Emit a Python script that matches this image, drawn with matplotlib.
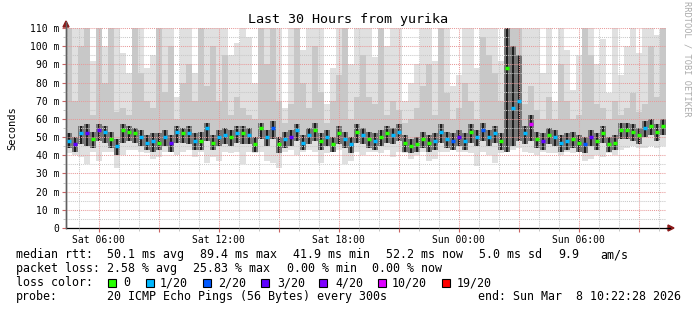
import numpy as np
import pandas as pd
import matplotlib
matplotlib.use("Agg")
import matplotlib.pyplot as plt
import matplotlib.dates as mdates
from matplotlib.ticker import MultipleLocator, FuncFormatter
from matplotlib.patches import Rectangle, Polygon
from matplotlib.lines import Line2D

## 고정폭 폰트 (rrdtool 느낌)
plt.rc("font", family="DejaVu Sans Mono")

# 30시간 구간, 18분 단위 100칸
start = pd.Timestamp("2026-03-07 04:22:28")
end = pd.Timestamp("2026-03-08 10:22:28")
step_min = 18

# 중앙값 rtt (ms)
med = [48, 46, 52, 52, 49, 54, 53, 49, 45, 54, 53, 52, 50, 47, 48, 47, 50, 47, 53, 52, 52, 48, 48, 55, 47,
       50, 51, 50, 52, 52, 51, 46, 55, 50, 55, 46, 49, 50, 54, 47, 51, 54, 48, 50, 46, 52, 49, 46, 53, 51,
       49, 48, 50, 52, 51, 53, 47, 45, 46, 49, 47, 48, 53, 49, 48, 50, 48, 53, 50, 54, 50, 52, 48, 88, 66,
       70, 52, 57, 49, 48, 51, 50, 47, 48, 49, 47, 46, 50, 48, 52, 46, 47, 54, 54, 53, 51, 55, 56, 53, 56]
# 손실 핑 개수 (20개 중)
loss = [1, 3, 1, 3, 0, 3, 1, 0, 1, 0, 0, 0, 1, 1, 1, 0, 1, 3, 1, 0, 1, 1, 0, 1, 0,
        1, 1, 0, 1, 0, 1, 0, 0, 1, 2, 0, 1, 3, 1, 1, 1, 0, 0, 1, 0, 0, 1, 1, 0, 1,
        0, 1, 0, 0, 1, 1, 0, 0, 0, 0, 0, 1, 1, 1, 2, 3, 1, 0, 1, 2, 1, 1, 0, 0, 1,
        1, 1, 10, 0, 3, 0, 1, 1, 1, 0, 0, 2, 3, 0, 0, 0, 0, 0, 0, 0, 0, 1, 0, 0, 0]
# smoke 최소값
lo = [41, 40, 39, 35, 42, 37, 42, 42, 33, 40, 43, 43, 42, 41, 38, 39, 42, 42, 40, 42, 43, 39, 42, 36, 39,
      37, 42, 41, 42, 35, 42, 41, 42, 37, 36, 33, 42, 43, 40, 42, 43, 42, 36, 41, 42, 43, 35, 37, 42, 40,
      42, 42, 41, 43, 39, 42, 41, 38, 40, 42, 37, 38, 42, 42, 43, 42, 42, 41, 34, 42, 40, 36, 41, 42, 43,
      44, 42, 41, 40, 42, 41, 41, 40, 42, 41, 42, 37, 38, 40, 39, 41, 40, 43, 44, 45, 44, 44, 45, 44, 45]
# 진한 부분 (중앙 근처)
q_lo = [44, 42, 46, 45, 44, 48, 47, 44, 40, 47, 48, 47, 45, 43, 42, 43, 45, 42, 47, 47, 46, 43, 43, 48, 43,
        45, 46, 45, 47, 46, 46, 42, 49, 45, 49, 41, 44, 45, 48, 43, 46, 48, 43, 45, 42, 46, 44, 41, 47, 46,
        44, 43, 45, 47, 46, 48, 42, 41, 42, 44, 42, 43, 47, 44, 43, 45, 43, 47, 45, 48, 45, 47, 43, 42, 45,
        48, 46, 48, 44, 43, 46, 45, 42, 43, 44, 42, 41, 45, 43, 47, 42, 43, 49, 49, 48, 46, 50, 51, 48, 51]
q_hi = [52, 50, 56, 57, 53, 57, 56, 53, 49, 57, 56, 55, 54, 51, 52, 52, 54, 51, 56, 55, 56, 52, 53, 58, 51,
        54, 55, 54, 56, 56, 55, 50, 58, 54, 59, 50, 53, 54, 57, 51, 55, 58, 52, 54, 50, 56, 53, 50, 57, 55,
        53, 52, 54, 56, 55, 57, 51, 49, 50, 53, 51, 52, 57, 53, 52, 54, 52, 57, 54, 58, 54, 56, 52, 120, 100,
        95, 56, 62, 53, 52, 55, 54, 51, 52, 53, 51, 50, 54, 52, 56, 50, 51, 58, 58, 57, 55, 59, 60, 57, 60]
# 중간 회색 윗값
p80 = [120, 70, 100, 120, 62, 110, 80, 120, 64, 66, 62, 120, 85, 70, 66, 120, 75, 100, 60, 80, 90, 70, 120, 78, 100,
       70, 95, 62, 72, 66, 62, 60, 120, 90, 120, 70, 58, 68, 110, 80, 66, 100, 75, 58, 70, 84, 120, 60, 72, 95,
       72, 68, 110, 62, 70, 65, 58, 60, 66, 78, 90, 62, 120, 74, 60, 66, 80, 70, 60, 105, 95, 85, 70, 120, 120,
       120, 68, 78, 65, 60, 72, 60, 90, 70, 60, 62, 120, 95, 68, 66, 60, 70, 62, 66, 74, 64, 68, 100, 72, 110]
# smoke 최대값 (110 넘으면 잘림)
hi = [120, 120, 120, 120, 92, 120, 100, 120, 120, 96, 85, 120, 120, 88, 95, 120, 120, 120, 72, 120, 120, 85, 120, 120, 120,
      120, 120, 95, 102, 120, 105, 80, 120, 120, 120, 120, 66, 120, 120, 98, 120, 120, 120, 68, 88, 120, 120, 90, 120, 120,
      120, 94, 120, 100, 120, 120, 70, 80, 90, 120, 120, 92, 120, 120, 78, 84, 120, 120, 88, 120, 120, 120, 92, 120, 120,
      120, 120, 120, 120, 85, 120, 70, 120, 98, 76, 95, 120, 120, 90, 104, 74, 120, 84, 100, 120, 96, 120, 120, 106, 120]

loss_levels = [0, 1, 2, 3, 4, 10, 19]
loss_labels = ["0", "1/20", "2/20", "3/20", "4/20", "10/20", "19/20"]
loss_colors = ["#26ff00", "#00b8ff", "#0059ff", "#5e00ff", "#7e00ff", "#dd00ff", "#ff0000"]


def loss_color(n):
    c = loss_colors[0]
    for lv, col in zip(loss_levels, loss_colors):
        if n >= lv:
            c = col
    return c


W, H = 697, 310
fx = lambda px: px / W
fy = lambda py: 1 - py / H

fig = plt.figure(figsize=(W / 100, H / 100), dpi=100)
ax = fig.add_axes([fx(66), fy(228), 600 / W, 200 / H])

times = start + pd.to_timedelta(np.arange(len(med)) * step_min, unit="min")
x = mdates.date2num(times)
w = step_min / 1440.0

med_a, lo_a, hi_a = np.array(med), np.array(lo), np.array(hi)
qlo_a, qhi_a, p80_a = np.array(q_lo), np.array(q_hi), np.array(p80)

# smoke 레이어
ax.bar(x, hi_a - lo_a, bottom=lo_a, width=w, align="edge", color="#e0e0e0", lw=0, zorder=1)
ax.bar(x, p80_a - qlo_a, bottom=qlo_a, width=w, align="edge", color="#c8c8c8", lw=0, zorder=1.1)
ax.bar(x, qhi_a - qlo_a, bottom=qlo_a, width=w, align="edge", color="#777777", lw=0, zorder=1.2)
ax.bar(x + w * 0.33, qhi_a - qlo_a, bottom=qlo_a, width=w * 0.34, align="edge", color="#1e1e1e", lw=0, zorder=1.3)

# 중앙값 (손실 색)
ax.hlines(med_a, x + w * 0.1, x + w * 0.9, colors=[loss_color(n) for n in loss], lw=2.5, zorder=4)

ax.set_xlim(mdates.date2num(start), mdates.date2num(end))
ax.set_ylim(0, 110)

## 격자
ax.xaxis.set_major_locator(mdates.HourLocator(byhour=range(0, 24, 3)))
ax.xaxis.set_minor_locator(mdates.HourLocator())
ax.yaxis.set_major_locator(MultipleLocator(10))
ax.yaxis.set_minor_locator(MultipleLocator(5))


def xfmt(v, p):
    d = mdates.num2date(v)
    return d.strftime("%a %H:%M") if d.hour % 6 == 0 else ""


ax.xaxis.set_major_formatter(FuncFormatter(xfmt))
ax.yaxis.set_major_formatter(FuncFormatter(lambda v, p: "0" if v == 0 else "%d m" % v))

ax.set_axisbelow(False)
ax.grid(which="major", color="#e89a9a", ls=(0, (1, 1)), lw=0.75)
ax.grid(which="minor", color="#c8c8c8", ls=(0, (1, 1)), lw=0.75)

ax.tick_params(which="major", length=3, color="#c86464", labelsize=7, pad=2)
ax.tick_params(which="minor", length=2, color="#bbbbbb")

for s in ["top", "right"]:
    ax.spines[s].set_visible(False)
ax.spines["bottom"].set_color("black")
ax.spines["left"].set_color("#606060")
ax.spines["bottom"].set_linewidth(0.9)
ax.spines["left"].set_linewidth(1.0)

# 축 화살표
fig.add_artist(Line2D([fx(66), fx(66)], [fy(228), fy(22)], color="#606060", lw=1.0))
fig.add_artist(Line2D([fx(666), fx(670)], [fy(228), fy(228)], color="black", lw=0.9))
fig.add_artist(Polygon([[fx(63), fy(27)], [fx(69), fy(27)], [fx(66), fy(21)]], closed=True,
                       transform=fig.transFigure, color="#8b1a1a"))
fig.add_artist(Polygon([[fx(668), fy(225)], [fx(668), fy(231)], [fx(674), fy(228)]], closed=True,
                       transform=fig.transFigure, color="#8b1a1a"))

## 제목, 단위, 워터마크
fig.text(fx(348), fy(23), "Last 30 Hours from yurika", ha="center", va="baseline", fontsize=9.6)
fig.text(fx(12), fy(128), "Seconds", rotation=90, ha="center", va="center", fontsize=7.5)
fig.text(fx(687), fy(59), "RRDTOOL / TOBI OETIKER", rotation=270, ha="center", va="center",
         fontsize=6.2, color="#aaaaaa")

## 범례
legend_rows = [
    (258, [("median rtt:", 16), ("50.1 ms avg", 107), ("89.4 ms max", 200), ("41.9 ms min", 293),
           ("52.2 ms now", 386), ("5.0 ms sd", 479), ("9.9", 558), ("am/s", 600)]),
    (272, [("packet loss:", 16), ("2.58 % avg", 107), ("25.83 % max", 193), ("0.00 % min", 287),
           ("0.00 % now", 372)]),
    (286, [("loss color:", 16)]),
    (300, [("probe:", 16), ("20 ICMP Echo Pings (56 Bytes) every 300s", 107),
           ("end: Sun Mar  8 10:22:28 2026", 478)]),
]
for yb, items in legend_rows:
    for s, xp in items:
        fig.text(fx(xp), fy(yb), s, ha="left", va="baseline", fontsize=8.4)

box_x = [108, 146, 203, 261, 319, 378, 442]
lab_x = [123, 160, 218, 277, 335, 392, 457]
for bx, lx, c, lab in zip(box_x, lab_x, loss_colors, loss_labels):
    fig.add_artist(Rectangle((fx(bx), fy(287)), 8 / W, 8 / H, transform=fig.transFigure,
                             facecolor=c, edgecolor="black", lw=0.8))
    fig.text(fx(lx), fy(286), lab, ha="left", va="baseline", fontsize=8.4)

fig.savefig("out.png", dpi=100)
